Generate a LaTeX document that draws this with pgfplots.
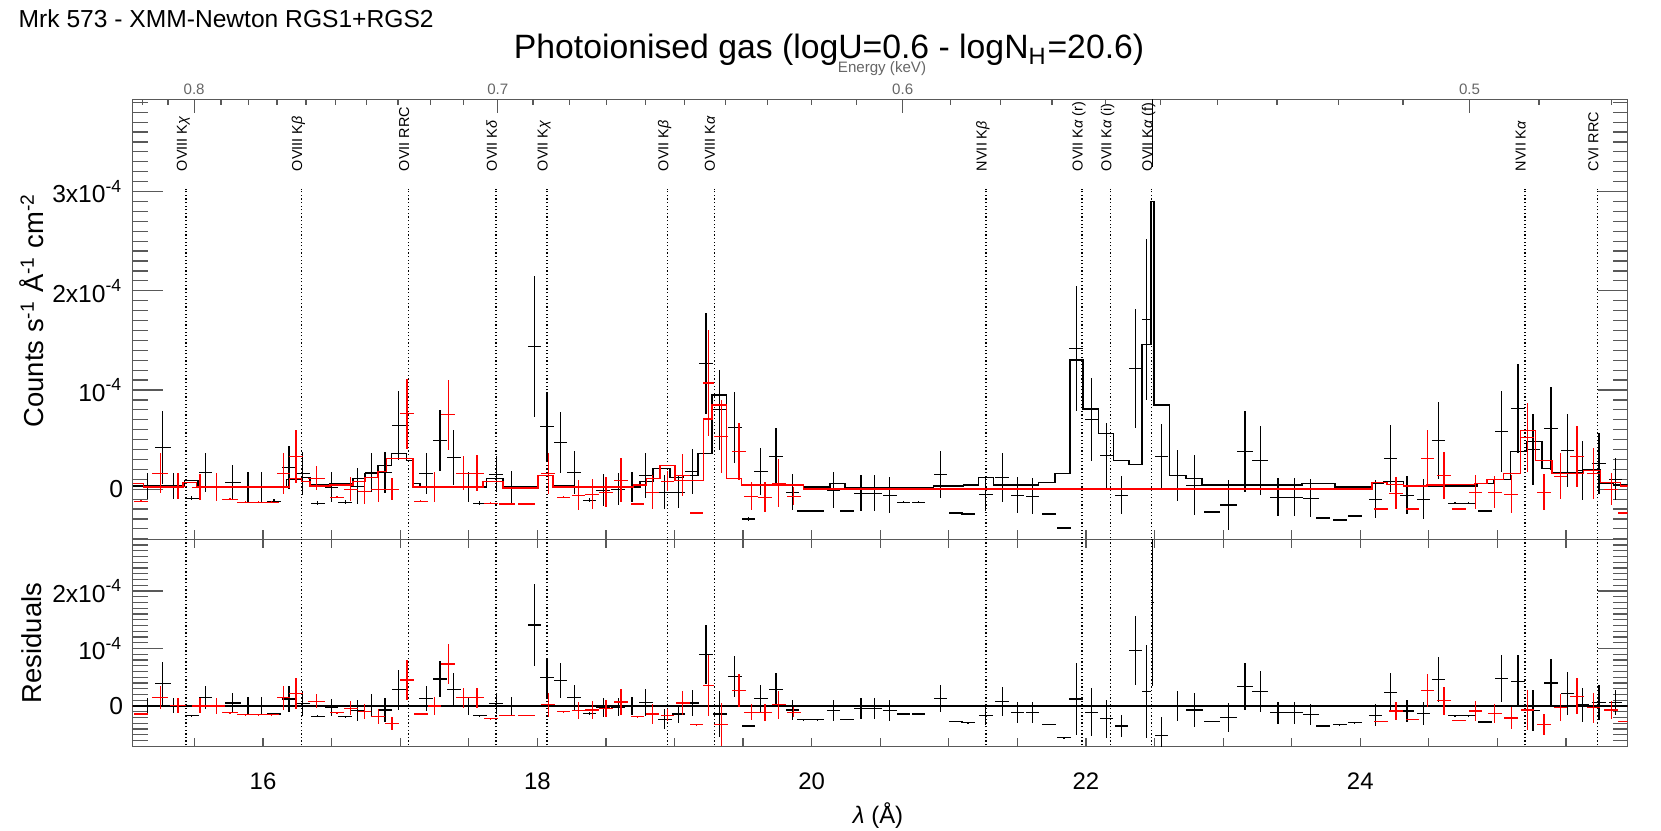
\documentclass[border=0pt]{standalone}
\usepackage{fontspec}
\setmainfont{Liberation Sans}
\usepackage{pgfplots}
\usepackage{pgfplotstable}
\pgfplotsset{compat=1.18}
\newcommand\fs[1]{\fontsize{#1}{#1}\selectfont}
\definecolor{frame}{gray}{0.35}

% black = RGS1, red = RGS2 ; values in units of 1e-4
% x dx y dy r  (r = residual)
\pgfplotstableread{
x dx y dy r
15.16 0.065 0.03 0.13 0.00
15.27 0.06 0.42 0.37 0.39
15.35 0.05 0.03 0.13 0.00
15.48 0.05 -0.09 0.02 -0.17
15.58 0.05 0.17 0.20 0.15
15.78 0.06 0.07 0.17 0.05
15.89 0.05 0.02 0.15 0.00
15.99 0.05 0.02 0.15 0.00
16.08 0.05 -0.12 0.02 -0.14
16.19 0.05 0.22 0.22 0.12
16.29 0.05 0.16 0.22 0.04
16.40 0.05 -0.14 0.02 -0.18
16.50 0.05 0.02 0.15 -0.03
16.60 0.05 -0.13 0.02 -0.19
16.69 0.05 0.03 0.18 -0.08
16.79 0.05 0.17 0.20 0.01
16.89 0.05 0.17 0.21 -0.07
16.99 0.05 0.64 0.35 0.28
17.19 0.05 0.16 0.21 0.13
17.29 0.05 0.49 0.31 0.47
17.39 0.05 0.32 0.28 0.29
17.50 0.05 0.02 0.15 0.00
17.58 0.05 -0.14 0.02 -0.17
17.70 0.05 0.15 0.18 0.04
17.81 0.05 0.02 0.16 0.00
17.98 0.05 1.44 0.71 1.41
18.07 0.05 0.63 0.35 0.49
18.17 0.05 0.47 0.31 0.44
18.27 0.05 0.17 0.22 0.14
18.38 0.05 -0.11 0.02 -0.13
18.48 0.05 -0.01 0.16 -0.03
18.59 0.05 0.00 0.16 -0.02
18.69 0.05 0.02 0.15 0.00
18.79 0.05 0.14 0.23 0.06
18.93 0.05 -0.03 0.17 -0.23
19.03 0.05 -0.03 0.16 -0.14
19.13 0.05 0.18 0.23 0.05
19.23 0.05 1.27 0.51 0.90
19.33 0.05 0.80 0.40 -0.14
19.44 0.05 0.62 0.36 0.51
19.54 0.05 -0.30 0.02 -0.35
19.63 0.05 0.18 0.24 0.13
19.74 0.05 0.33 0.29 0.28
19.86 0.05 -0.03 0.18 -0.07
19.94 0.05 -0.22 0.01 -0.24
20.04 0.05 -0.22 0.01 -0.24
20.16 0.05 -0.01 0.18 -0.08
20.26 0.05 -0.22 0.01 -0.23
20.36 0.05 -0.04 0.18 -0.05
20.46 0.05 -0.04 0.18 -0.05
20.57 0.05 -0.06 0.18 -0.08
20.67 0.05 -0.13 0.01 -0.14
20.78 0.05 -0.13 0.01 -0.14
20.94 0.05 0.15 0.24 0.13
21.05 0.05 -0.24 0.01 -0.27
21.14 0.05 -0.25 0.01 -0.29
21.27 0.05 -0.05 0.17 -0.17
21.39 0.05 0.12 0.25 0.08
21.50 0.05 -0.06 0.18 -0.11
21.61 0.05 -0.07 0.18 -0.12
21.73 0.05 -0.25 0.01 -0.32
21.84 0.05 -0.39 0.01 -0.55
21.93 0.05 1.42 0.63 0.12
22.04 0.05 0.70 0.42 -0.11
22.15 0.05 0.34 0.33 -0.22
22.26 0.05 -0.06 0.19 -0.35
22.36 0.045 1.22 0.60 0.97
22.44 0.035 1.71 0.81 0.25
22.485 0.012 4.70 1.45 1.80
22.55 0.05 0.33 0.33 -0.52
22.67 0.06 0.14 0.26 0.00
22.79 0.06 0.04 0.30 -0.07
22.92 0.06 -0.23 0.01 -0.27
23.04 0.06 -0.16 0.25 -0.20
23.16 0.06 0.38 0.41 0.34
23.27 0.06 0.29 0.35 0.25
23.40 0.06 -0.08 0.19 -0.12
23.52 0.06 -0.08 0.19 -0.12
23.64 0.06 -0.09 0.19 -0.15
23.73 0.05 -0.29 0.01 -0.35
23.85 0.05 -0.31 0.01 -0.33
23.96 0.05 -0.27 0.01 -0.29
24.11 0.05 -0.10 0.19 -0.16
24.22 0.05 0.31 0.34 0.23
24.34 0.05 -0.06 0.19 -0.09
24.46 0.05 -0.10 0.20 -0.13
24.57 0.05 0.49 0.39 0.46
24.69 0.05 -0.14 0.01 -0.17
24.79 0.05 -0.14 0.01 -0.17
24.91 0.05 -0.22 0.01 -0.28
25.03 0.05 0.58 0.41 0.48
25.15 0.05 0.81 0.45 0.43
25.26 0.05 0.40 0.36 -0.08
25.39 0.05 0.61 0.42 0.40
25.51 0.05 0.39 0.37 0.22
25.62 0.05 0.19 0.30 0.02
25.74 0.05 0.26 0.31 0.06
25.86 0.05 0.10 0.21 0.06
}\bdata

\pgfplotstableread{
x dx y dy r
15.11 0.05 -0.12 0.01 -0.14
15.25 0.06 0.16 0.20 0.14
15.38 0.06 0.03 0.13 0.01
15.54 0.06 0.02 0.13 0.00
15.66 0.06 0.02 0.14 0.00
15.76 0.06 -0.10 0.01 -0.12
15.87 0.06 -0.13 0.01 -0.15
15.97 0.06 -0.13 0.01 -0.15
16.06 0.06 -0.13 0.01 -0.15
16.15 0.05 0.16 0.21 0.14
16.24 0.05 0.33 0.27 0.22
16.39 0.06 0.11 0.12 0.08
16.54 0.05 -0.08 0.01 -0.12
16.64 0.05 0.00 0.12 -0.04
16.74 0.05 -0.02 0.13 -0.10
16.84 0.05 0.00 0.13 -0.18
16.94 0.05 0.00 0.11 -0.31
17.05 0.05 0.76 0.35 0.45
17.15 0.05 -0.12 0.01 -0.14
17.25 0.05 0.02 0.15 0.00
17.35 0.05 0.75 0.35 0.73
17.46 0.05 0.16 0.17 0.14
17.56 0.05 0.16 0.18 0.14
17.66 0.05 -0.14 0.01 -0.22
17.78 0.06 -0.15 0.01 -0.16
17.92 0.06 -0.15 0.01 -0.16
18.08 0.05 0.16 0.21 0.02
18.19 0.05 -0.08 0.01 -0.10
18.30 0.05 -0.06 0.15 -0.08
18.40 0.05 -0.05 0.15 -0.07
18.50 0.05 -0.03 0.15 -0.05
18.61 0.05 0.09 0.22 0.07
18.73 0.05 -0.15 0.01 -0.19
18.84 0.05 -0.03 0.17 -0.14
18.95 0.05 0.08 0.10 -0.16
19.06 0.05 0.14 0.21 0.05
19.16 0.05 -0.24 0.01 -0.33
19.25 0.04 1.07 0.53 0.36
19.34 0.05 0.53 0.37 -0.32
19.47 0.05 0.38 0.29 0.27
19.56 0.05 -0.07 0.14 -0.11
19.66 0.05 -0.08 0.15 -0.12
19.76 0.05 0.06 0.24 0.02
19.87 0.05 -0.07 0.09 -0.11
24.15 0.05 -0.20 0.01 -0.27
24.26 0.05 -0.04 0.16 -0.09
24.38 0.05 -0.20 0.01 -0.23
24.49 0.05 0.31 0.29 0.27
24.61 0.05 0.14 0.24 0.09
24.72 0.05 -0.20 0.01 -0.25
24.84 0.05 -0.03 0.17 -0.09
24.98 0.05 -0.03 0.16 -0.13
25.10 0.05 -0.05 0.19 -0.21
25.22 0.05 0.52 0.35 -0.07
25.34 0.05 -0.03 0.18 -0.32
25.46 0.05 0.13 0.23 -0.03
25.58 0.05 0.33 0.31 0.17
25.70 0.05 0.16 0.26 -0.03
25.83 0.05 0.00 0.16 -0.07
25.93 0.05 -0.24 0.01 -0.27
}\rdata

% model step curves (value holds from x to next x)
\pgfplotstableread{
x y
15.05 0.03
15.429 0.09
15.526 0.02
16.171 0.10
16.280 0.12
16.341 0.04
16.487 0.06
16.657 0.11
16.742 0.16
16.839 0.24
16.937 0.36
17.046 0.29
17.095 0.06
17.143 0.02
17.629 0.11
17.751 0.02
18.006 0.14
18.115 0.03
18.261 0.02
18.748 0.08
18.845 0.21
18.966 0.12
19.064 0.14
19.173 0.36
19.275 0.95
19.380 0.11
19.489 0.04
19.939 0.02
20.134 0.06
20.242 0.01
20.887 0.03
21.106 0.04
21.215 0.12
21.325 0.04
21.653 0.07
21.775 0.16
21.884 1.30
21.977 0.81
22.091 0.56
22.200 0.29
22.315 0.25
22.407 1.46
22.473 2.90
22.497 0.85
22.609 0.14
22.730 0.11
22.845 0.04
23.574 0.06
23.817 0.02
24.085 0.06
24.170 0.08
24.316 0.03
24.851 0.06
24.972 0.10
25.094 0.38
25.215 0.48
25.324 0.21
25.397 0.17
25.628 0.20
25.750 0.06
25.847 0.04
25.95 0.04
}\bmodel

\pgfplotstableread{
x y
15.05 0.06
15.13 0.02
15.417 0.07
15.514 0.02
16.195 0.11
16.280 0.08
16.341 0.03
16.487 0.04
16.657 0.08
16.742 0.12
16.839 0.18
16.900 0.31
17.095 0.02
17.605 0.08
17.751 0.01
18.006 0.14
18.115 0.02
18.700 0.04
18.797 0.11
18.894 0.24
19.004 0.09
19.211 0.71
19.275 0.85
19.380 0.11
19.489 0.04
19.939 0.00
24.085 0.07
24.194 0.05
24.316 0.03
24.486 0.04
24.607 0.05
24.838 0.06
24.924 0.10
25.046 0.16
25.167 0.59
25.277 0.29
25.397 0.16
25.628 0.19
25.750 0.07
25.896 0.03
25.95 0.03
}\rmodel

\pgfplotsset{
  panel/.style={scale only axis, width=149.5mm, xmin=15.05, xmax=25.95,
    anchor=south west, clip=true},
  frameax/.style={axis line style={draw=frame, line width=0.12mm},
    tick style={draw=frame, line width=0.12mm},
    major tick length=3mm, minor tick length=1.5mm, xtick=\empty,
    yticklabel style={font=\fs{7.0}, inner sep=0pt, xshift=-0.9mm}},
  overlay/.style={axis line style={draw=none}, ytick=\empty, ymin=0, ymax=1,
    tick style={draw=frame, line width=0.12mm}},
  errb/.style={only marks, mark=*, mark size=0pt,
    mark options={draw=none, fill=none},
    error bars/.cd, x dir=both, x explicit,
    y dir=both, y explicit, error mark=none,
    error bar style={#1, line width=0.12mm}},
  stepl/.style={const plot, #1, line width=0.15mm},
  dotl/.style={black, line width=0.14mm, dash pattern=on 0.13mm off 0.23mm},
}
\tikzset{lbl/.style={rotate=90, anchor=base west, font=\fs{4.1}, inner sep=0pt}}

\begin{document}
\begin{tikzpicture}
\useasboundingbox (0,0) rectangle (166.1mm,83mm);

% ---------- top panel ----------
\begin{axis}[panel, frameax, at={(13.27mm,29.07mm)}, height=44mm,
  ymin=-0.505, ymax=3.93,
  ytick={0,1,2,3},
  yticklabels={0,{10\textsuperscript{-4}},{2x10\textsuperscript{-4}},{3x10\textsuperscript{-4}}},
  minor ytick={-0.5,-0.4,...,3.9}]
\pgfplotsinvokeforeach{15.44,16.28,17.06,17.70,18.07,18.95,19.29,21.27,21.97,22.18,22.48,25.20,25.73}{
  \addplot[dotl] coordinates {(#1,-1) (#1,3.03)};
}
\addplot[black, errb=black] table[x=x, y=y, x error=dx, y error=dy] {\bdata};
\addplot[stepl=black] table[x=x, y=y] {\bmodel};
\addplot[red, errb=red] table[x=x, y=y, x error=dx, y error=dy] {\rdata};
\addplot[stepl=red] table[x=x, y=y] {\rmodel};
\node[lbl] at (axis cs:15.445,3.2) {OVIII K\textit{χ}};
\node[lbl] at (axis cs:16.285,3.2) {OVIII K\textit{β}};
\node[lbl] at (axis cs:17.065,3.2) {OVII RRC};
\node[lbl] at (axis cs:17.705,3.2) {OVII K\textit{δ}};
\node[lbl] at (axis cs:18.075,3.2) {OVII K\textit{χ}};
\node[lbl] at (axis cs:18.955,3.2) {OVII K\textit{β}};
\node[lbl] at (axis cs:19.295,3.2) {OVIII K\textit{α}};
\node[lbl] at (axis cs:21.275,3.2) {NVII K\textit{β}};
\node[lbl] at (axis cs:21.975,3.2) {OVII K\textit{α} (r)};
\node[lbl] at (axis cs:22.185,3.2) {OVII K\textit{α} (i)};
\node[lbl] at (axis cs:22.485,3.2) {OVII K\textit{α} (f)};
\node[lbl] at (axis cs:25.205,3.2) {NVII K\textit{α}};
\node[lbl] at (axis cs:25.735,3.2) {CVI RRC};
\end{axis}

% energy scale on the top edge
\begin{axis}[panel, overlay, at={(13.27mm,29.07mm)}, height=44mm,
  xtick pos=right, xticklabel pos=right,
  xtick={15.498,17.712,20.664,24.797}, xticklabels={0.8,0.7,0.6,0.5},
  minor xtick={15.120,15.307,15.694,15.895,16.102,16.314,16.531,16.755,16.984,17.220,17.463,17.969,18.233,18.505,18.786,19.075,19.373,19.680,19.997,20.325,21.014,21.377,21.752,22.140,22.543,22.960,23.393,23.843,24.311,25.303,25.830},
  major tick length=1.4mm, minor tick length=0.6mm,
  xticklabel style={font=\fs{4.3}, text=black!60, inner sep=0pt, yshift=0.4mm}]
\end{axis}

% wavelength ticks on the lower edge of the top panel
\begin{axis}[panel, overlay, at={(13.27mm,29.07mm)}, height=44mm,
  xtick pos=left, xtick={15.5,16,...,25.5}, xticklabels={},
  major tick length=0.9mm]
\end{axis}

% ---------- residual panel ----------
\begin{axis}[panel, frameax, at={(13.27mm,8.33mm)}, height=20.74mm,
  ymin=-0.71, ymax=2.90,
  ytick={0,1,2},
  yticklabels={0,{10\textsuperscript{-4}},{2x10\textsuperscript{-4}}},
  minor ytick={-0.7,-0.6,...,2.9}]
\pgfplotsinvokeforeach{15.44,16.28,17.06,17.70,18.07,18.95,19.29,21.27,21.97,22.18,22.48,25.20,25.73}{
  \addplot[dotl] coordinates {(#1,-1) (#1,3)};
}
\addplot[red, line width=0.12mm] coordinates {(15,-0.015) (26,-0.015)};
\addplot[black, line width=0.13mm] coordinates {(15,0) (26,0)};
\addplot[black, errb=black] table[x=x, y=r, x error=dx, y error=dy] {\bdata};
\addplot[red, errb=red] table[x=x, y=r, x error=dx, y error=dy] {\rdata};
\end{axis}

\begin{axis}[panel, overlay, at={(13.27mm,8.33mm)}, height=20.74mm,
  xtick pos=both, xticklabel pos=left,
  xtick={16,18,20,22,24}, xticklabels={16,18,20,22,24},
  minor xtick={15.5,16.5,17,17.5,18.5,19,19.5,20.5,21,21.5,22.5,23,23.5,24.5,25,25.5},
  major tick length=0.9mm, minor tick length=0.9mm,
  xticklabel style={font=\fs{6.8}, inner sep=0pt, yshift=-2.5mm}]
\end{axis}

% ---------- texts ----------
\node[anchor=west, font=\fs{7}, inner sep=0pt] at (1.8mm,81.1mm) {Mrk 573 - XMM-Newton RGS1+RGS2};
\node[font=\fs{9.6}, inner sep=0pt] at (82.9mm,78.0mm) {Photoionised gas (logU=0.6 - logN\textsubscript{H}=20.6)};
\node[font=\fs{4.3}, text=black!60, inner sep=0pt] at (88.2mm,76.1mm) {Energy (keV)};
\node[rotate=90, font=\fs{7.8}, inner sep=0pt] at (3.2mm,52.0mm) {Counts s\textsuperscript{-1} Å\textsuperscript{-1} cm\textsuperscript{-2}};
\node[rotate=90, font=\fs{7.8}, inner sep=0pt] at (3.2mm,18.7mm) {Residuals};
\node[font=\fs{6.8}, inner sep=0pt] at (87.8mm,1.4mm) {\textit{λ} (Å)};
\end{tikzpicture}
\end{document}
